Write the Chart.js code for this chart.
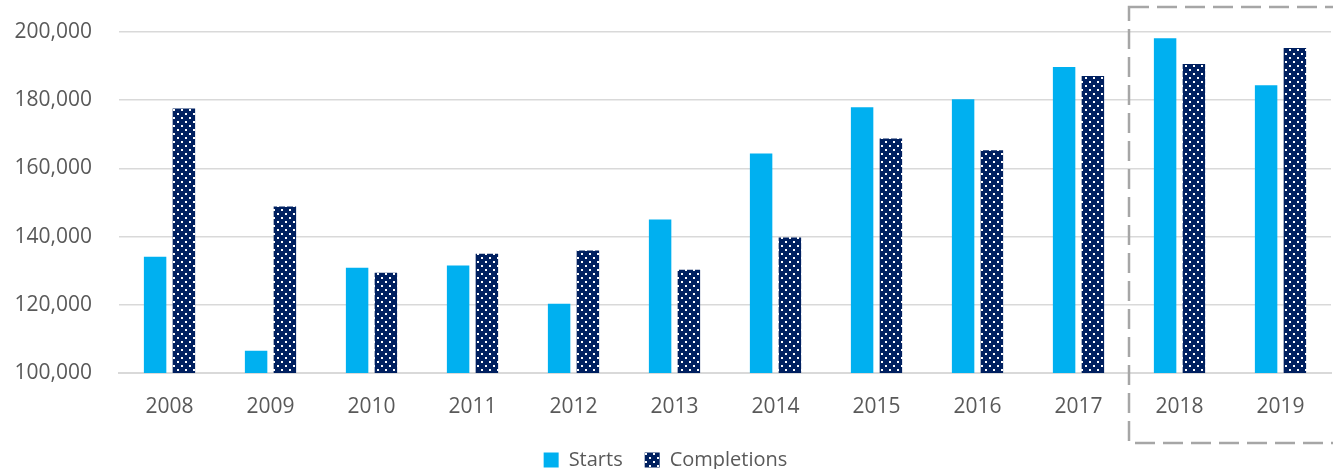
<!DOCTYPE html>
<html>
<head>
<meta charset="utf-8">
<script src="https://cdn.jsdelivr.net/npm/chart.js@4"></script>
<style>
  body { margin: 0; background: #fff; }
  #wrap { width: 1333px; height: 469px; position: relative; }
</style>
</head>
<body>
<div id="wrap"><canvas id="myChart"></canvas></div>
<script>
// data
const years = ['2008','2009','2010','2011','2012','2013','2014','2015','2016','2017','2018','2019'];
const starts = [134100, 106500, 130900, 131500, 120300, 145000, 164400, 177900, 180300, 189700, 198200, 184400];
const completions = [177600, 148800, 129400, 135000, 135900, 130300, 139700, 168800, 165300, 187100, 190600, 195300];
const yTicks = [100000, 120000, 140000, 160000, 180000, 200000];

// dotted navy fill for completions
function dotPattern(){
  const c = document.createElement('canvas');
  c.width = 8; c.height = 8;
  const p = c.getContext('2d');
  p.fillStyle = '#002060';
  p.fillRect(0,0,8,8);
  p.fillStyle = '#ffffff';
  p.fillRect(1,1,2,2);
  p.fillRect(5,5,2,2);
  return p.createPattern(c, 'repeat');
}

// dashed box round the last two years
const boxPlugin = {
  id: 'dashBox',
  afterDraw(chart){
    const x = chart.scales.x;
    const ctx = chart.ctx;
    const left = (x.getPixelForValue(9) + x.getPixelForValue(10)) / 2;
    ctx.save();
    ctx.strokeStyle = '#A6A6A6';
    ctx.lineWidth = 2.5;
    ctx.setLineDash([20, 8]);
    ctx.strokeRect(left, 7, 1400 - left, 436);
    ctx.restore();
  }
};

const font = "'Open Sans', sans-serif";
const ctx = document.getElementById('myChart');
const myChart = new Chart(ctx, {
  type: 'bar',
  data: {
    labels: years,
    datasets: [{
      label: 'Starts',
      data: starts,
      backgroundColor: '#00B0F0',
      categoryPercentage: 0.57,
      barPercentage: 0.78
    },{
      label: 'Completions',
      data: completions,
      backgroundColor: dotPattern(),
      categoryPercentage: 0.57,
      barPercentage: 0.78
    }]
  },
  options: {
    responsive: true,
    maintainAspectRatio: false,
    animation: false,
    layout: { padding: { top: 32, right: 2, left: 0, bottom: -11 } },
    plugins: {
      tooltip: { enabled: false },
      legend: {
        position: 'bottom',
        labels: {
          boxWidth: 15,
          boxHeight: 15,
          padding: 22,
          color: '#595959',
          font: { family: font, size: 20 }
        }
      }
    },
    scales: {
      x: {
        grid: { display: false },
        border: { color: '#D9D9D9', width: 2 },
        ticks: { color: '#595959', padding: 13, font: { family: font, size: 21 } },
        afterFit: axis => { axis.height = 55; }
      },
      y: {
        min: 100000,
        max: 200000,
        afterBuildTicks: axis => { axis.ticks = yTicks.map(v => ({ value: v })); },
        afterFit: axis => {
          axis.width = 119;
          axis.paddingTop = 0;
          axis.paddingBottom = 0;
        },
        grid: { color: '#D9D9D9', lineWidth: 1.5, drawTicks: false },
        border: { display: false },
        ticks: {
          color: '#595959',
          padding: 27,
          font: { family: font, size: 21 },
          callback: v => v.toLocaleString('en-US')
        }
      }
    }
  },
  plugins: [boxPlugin]
});
</script>
</body>
</html>
